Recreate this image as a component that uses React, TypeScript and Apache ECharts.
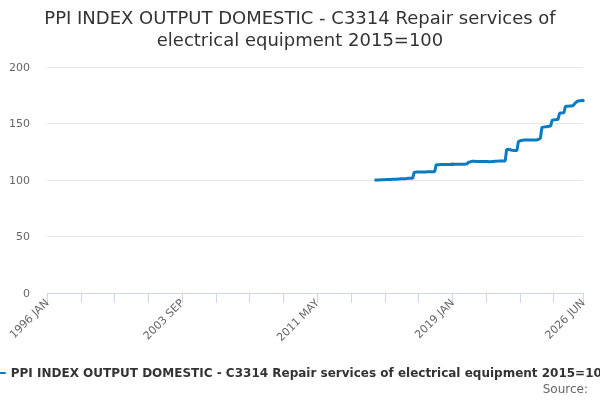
import React, { useEffect, useRef } from "react";
import * as echarts from "echarts";

const MONTHS = ["JAN", "FEB", "MAR", "APR", "MAY", "JUN", "JUL", "AUG", "SEP", "OCT", "NOV", "DEC"];
const FIRST_YEAR = 1996;
const LAST_YEAR = 2026;
const LAST_MONTH = 6; // JUN

const categories: string[] = [];
for (let y = FIRST_YEAR; y <= LAST_YEAR; y++) {
  for (let m = 0; m < 12; m++) {
    if (y === LAST_YEAR && m >= LAST_MONTH) break;
    categories.push(`${y} ${MONTHS[m]}`);
  }
}

const seriesStart = "2014 AUG";
const seriesName = "PPI INDEX OUTPUT DOMESTIC - C3314 Repair services of electrical equipment 2015=100";
const seriesValues: number[] = [
  100.0, 100.0, 100.1, 100.1, 100.2, 100.2, 100.3, 100.3, 100.4, 100.4,
  100.5, 100.5, 100.6, 100.6, 100.7, 100.7, 100.8, 100.9, 101.0, 101.0, 101.1, 101.2, 101.3,
  101.6, 101.6, 101.5, 101.5,
  106.8, 106.9, 107.0, 107.0, 107.0, 107.1, 107.1, 107.1, 107.1, 107.2, 107.2, 107.2, 107.2, 107.3, 107.3,
  113.5, 113.6, 113.6, 113.7, 113.7, 113.7, 113.8, 113.8, 113.8, 113.8, 113.8, 113.9, 113.9, 113.9, 113.9, 113.9, 114.0, 114.0, 114.0, 114.0, 114.1, 114.1,
  115.8, 116.0, 116.4, 116.6, 116.5, 116.4, 116.4, 116.3, 116.3, 116.3, 116.4, 116.4, 116.4, 116.3, 116.2, 116.2, 116.3, 116.4, 116.5, 116.6, 116.7, 116.8, 116.8, 116.8, 116.9, 116.9,
  127.0, 127.2, 127.0, 126.6, 126.3, 126.2, 126.0, 126.1,
  133.8, 134.6, 135.0, 135.2, 135.3, 135.3, 135.3, 135.3, 135.4, 135.4, 135.4, 135.3, 135.4, 135.6, 136.2, 137.0,
  146.5, 146.8, 147.0, 147.2, 147.4, 147.6, 147.8,
  153.0, 153.2, 153.4, 153.5, 153.6,
  159.0, 159.2, 159.4, 159.6,
  165.0, 165.2, 165.3, 165.4, 165.5, 165.6,
  167.0, 168.5, 169.5,
  170.0, 170.2, 170.3, 170.3,
];

const LABEL_STEP = 92;
const TICK_STEP = 23;
const yTicks = { min: 0, max: 200, interval: 50 };

const FONT = "DejaVu Sans";

export default function App() {
  const ref = useRef<HTMLDivElement>(null);
  useEffect(() => {
    if (!ref.current) return;
    const chart = echarts.init(ref.current, null, { renderer: "svg" });
    const startIdx = categories.indexOf(seriesStart);
    const data = categories.map((_, i) =>
      i < startIdx || i - startIdx >= seriesValues.length ? null : seriesValues[i - startIdx]
    );
    const last = categories.length - 1;
    chart.setOption({
      animation: false,
      textStyle: { fontFamily: FONT },
      title: {
        text: "PPI INDEX OUTPUT DOMESTIC - C3314 Repair services of\nelectrical equipment 2015=100",
        left: "center",
        top: 1,
        textStyle: { fontFamily: FONT, fontSize: 18, fontWeight: "normal", color: "#333333", lineHeight: 22 },
      },
      legend: {
        left: "center",
        top: 362,
        icon: "rect",
        itemWidth: 16,
        itemHeight: 2,
        itemGap: 5,
        textStyle: { fontFamily: FONT, fontSize: 12, fontWeight: "bold", color: "#333333" },
        data: [seriesName],
      },
      grid: { left: 47, right: 17, top: 67, bottom: 107, containLabel: false },
      xAxis: {
        type: "category",
        data: categories,
        boundaryGap: false,
        axisLine: { lineStyle: { color: "#ccd6eb" } },
        axisTick: {
          show: true,
          length: 10,
          lineStyle: { color: "#ccd6eb" },
          interval: (i: number) => i % TICK_STEP === 0 || i === last,
        },
        axisLabel: {
          rotate: 45,
          color: "#666666",
          fontSize: 11,
          fontFamily: FONT,
          margin: 8,
          showMaxLabel: true,
          interval: (i: number) => i % LABEL_STEP === 0 || i === last,
        },
        splitLine: { show: false },
      },
      yAxis: {
        type: "value",
        min: yTicks.min,
        max: yTicks.max,
        interval: yTicks.interval,
        axisLine: { show: false },
        axisTick: { show: false },
        axisLabel: { color: "#666666", fontSize: 11, fontFamily: FONT, margin: 17 },
        splitLine: { lineStyle: { color: "#e6e6e6" } },
      },
      series: [
        {
          name: seriesName,
          type: "line",
          data,
          color: "#0b7bc2",
          showSymbol: true,
          symbol: "circle",
          symbolSize: 3.5,
          lineStyle: { width: 3, color: "#0b7bc2" },
          itemStyle: { color: "#0b7bc2" },
        },
      ],
      graphic: [
        {
          type: "text",
          right: 12,
          top: 383,
          style: { text: "Source:", fontFamily: FONT, fontSize: 12, fill: "#666666" },
        },
      ],
    });
    return () => chart.dispose();
  }, []);
  return <div ref={ref} style={{ position: "fixed", left: 0, top: 0, width: 600, height: 400 }} />;
}
